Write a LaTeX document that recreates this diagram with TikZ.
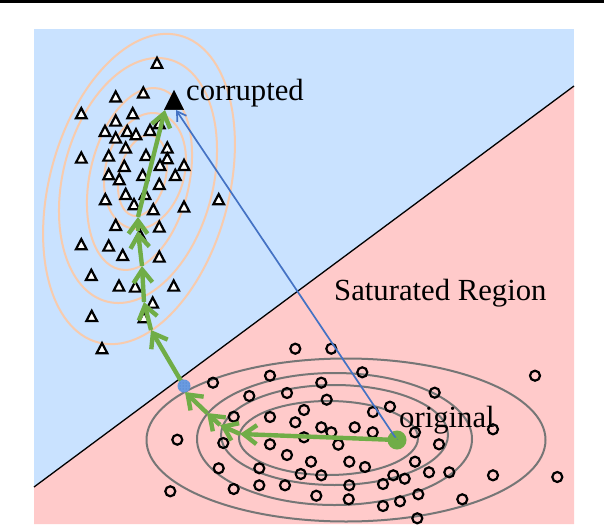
\documentclass[tikz,border=0pt]{standalone}
\usepackage{fontspec}
\setmainfont{Liberation Serif}
\usetikzlibrary{arrows.meta,patterns}
\definecolor{bgblue}{HTML}{C9E2FF}
\definecolor{bgpink}{HTML}{FFCACA}
\definecolor{contourorange}{HTML}{F8CBAD}
\definecolor{contourgray}{HTML}{767676}
\definecolor{stepgreen}{HTML}{70AD47}
\definecolor{jumpblue}{HTML}{4472C4}
\definecolor{dotblue}{HTML}{6A9BE0}
\tikzset{
  orangecontour/.style={draw=contourorange,line width=2pt},
  graycontour/.style={draw=contourgray,line width=2pt},
  tripoint/.style={draw=black,fill=white,line width=2.2pt,line join=miter},
  circpoint/.style={draw=black,line width=2.2pt},
  steparrow/.style={draw=stepgreen,line width=4.4pt,-{Straight Barb[length=13pt,width=19pt]}},
  jumparrow/.style={draw=jumpblue,line width=1.7pt,-{Straight Barb[length=9pt,width=11pt,line width=1.7pt]}},
  label/.style={anchor=base west,inner sep=0pt,font=\fontsize{30.7}{32}\selectfont,text=black},
  marker/.style={circle,inner sep=0pt,draw=none}
}
\begin{document}
\begin{tikzpicture}[x=1pt,y=-1pt]
\useasboundingbox (0,0) rectangle (604,524);
% top rule
\fill[black] (0,0) rectangle (604,3);
% regions
\fill[bgblue] (34,29) rectangle (574,524);
\fill[bgpink] (34,487) -- (574,86) -- (574,524) -- (34,524) -- cycle;
\coordinate (bl) at (34,487);
\coordinate (br) at (574,86);
\draw[black,line width=1.3pt] (bl) -- (br);
% orange contours
\draw[orangecontour] (139,189) ellipse [x radius=89.7,y radius=158.8,rotate=-15];
\draw[orangecontour] (138,180.5) ellipse [x radius=75,y radius=125,rotate=-14.4];
\draw[orangecontour] (139.5,179) ellipse [x radius=49.8,y radius=92.5,rotate=-12.4];
\draw[orangecontour] (145,171) ellipse [x radius=39.5,y radius=59,rotate=-14.4];
\draw[orangecontour] (142.5,175.5) ellipse [x radius=23.2,y radius=41.3,rotate=-13.4];
% gray contours
\draw[graycontour] (346,440) ellipse [x radius=199.5,y radius=81.5];
\draw[graycontour] (334.5,439) ellipse [x radius=137.5,y radius=66];
\draw[graycontour] (334.5,435) ellipse [x radius=113.5,y radius=50];
\draw[graycontour] (328.5,438) ellipse [x radius=89.5,y radius=37];
% triangles
\foreach \x/\y in {157/63,115.7/96.7,143.3/92.7,81.3/113.3,132.7/113.3,115.7/120.7,105/131,115.7/137.7,127.3/131,136/134.3,150/130,159.3/123.3,125.7/147.7,108.7/155.7,81.3/157.7,146/155,167.3/147.7,167.3/158.3,160/165,124.3/166,184/165,108.7/174.3,119.3/179.3,142.7/175,175.3/175,159.3/184,145/194,125.7/194,105.3/199.3,134/204.3,153.3/209.3,184/206.7,218.7/199.3,115.7/225,159.3/226.7,81.3/244.3,108.7/245.7,122.7/255,159.3/256.7,91.3/275,119/285.7,135.3/286.7,173.7/285.7,152.7/302.7,91.7/316,144/317.3,102/348.3,140/235}{
  \draw[tripoint] (\x-5.3,\y+4.9) -- (\x+5.3,\y+4.9) -- (\x,\y-5.2) -- cycle;
}
% circles
\foreach \x/\y in {295.3/348.7,331.3/348.7,362.3/372.3,270/375.7,213/382.7,321.3/382.7,249.3/396,287/393,326.7/399.7,304/410,233.7/416.7,270/417,295.3/422.3,321.3/427.3,331.3/432.3,354.7/427.3,304/437.3,177.3/439.7,223.3/443,270/444.3,338.3/444.7,287/455,311/461.7,349.3/461.7,218.7/468.3,259.3/468.3,365/467,300.7/474,321.3/475.3,170.3/491.3,233.7/489,259.3/485.3,285/485.3,349.3/485.3,316.3/495.7,348.7/499.3,434.7/392.7,390/406.7,373/412,493/429.3,372.7/432.3,415/432.3,439/444.3,415/461.7,429/472.3,449.3/472.3,393.3/475.3,404.7/478.7,383/484,493/475.3,557.3/477,418.3/494.3,400/501.3,383/506,462.3/499.3,417.3/518.3,535/375.7}{
  \draw[circpoint] (\x,\y) circle [radius=5];
}
% named nodes
\node[marker,minimum size=19pt,fill=stepgreen] (orig) at (397,440) {};
\path (176,110) coordinate (tipc);
\draw[jumparrow] (orig.center) -- (tipc);
\draw[fill=black,draw=black,line width=0.5pt,line join=miter] (164.5,109.5) -- (183.5,109.5) -- (174,90.5) -- cycle;
\coordinate (corr) at (165,110);
\coordinate (s1) at (240,434);
\coordinate (s2) at (220,425);
\coordinate (s3) at (207,413);
\coordinate (s4) at (185,392);
\coordinate (bdy) at (184,386);
\coordinate (s5) at (151,330);
\coordinate (s6) at (144,302);
\coordinate (s7) at (142,266);
\coordinate (s8) at (138,231);
\coordinate (s9) at (138,217);
\draw[steparrow] (orig.center) -- (s1);
\draw[steparrow] (s1) -- (s2);
\draw[steparrow] (s2) -- (s3);
\draw[steparrow] (s3) -- (s4);
\draw[steparrow] (bdy) -- (s5);
\draw[steparrow] (s5) -- (s6);
\draw[steparrow] (s6) -- (s7);
\draw[steparrow] (s7) -- (s8);
\draw[steparrow] (s8) -- (s9);
\draw[steparrow] (s9) -- (corr);
\node[marker,minimum size=13pt,fill=dotblue] (bdynode) at (bdy) {};
\node[marker,minimum size=13pt,pattern=dots,pattern color=jumpblue] at (bdy) {};
% labels
\node[label] (lc) at (186,100.5) {corrupted};
\node[label] (lo) at (399,427) {original};
\node[label] (ls) at (334,300) {Saturated Region};
\end{tikzpicture}
\end{document}
